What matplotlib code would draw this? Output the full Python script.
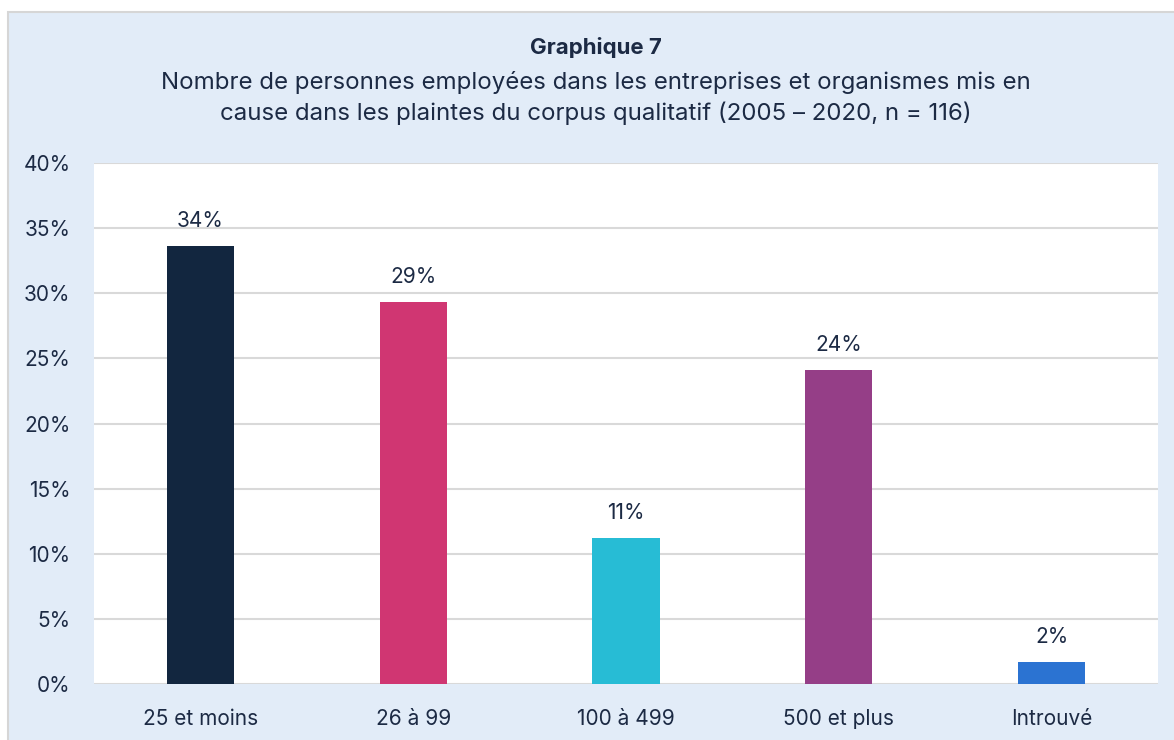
import matplotlib.pyplot as plt
from matplotlib.patches import Rectangle

plt.rcParams['font.family'] = ['Inter', 'DejaVu Sans']

categories = ['25 et moins', '26 à 99', '100 à 499', '500 et plus', 'Introuvé']
counts = [39, 34, 13, 28, 2]
n_total = 116
values = [c / n_total * 100 for c in counts]
colors = ['#12263f', '#d03672', '#27bcd5', '#953e87', '#2b73d2']
yticks = [0, 5, 10, 15, 20, 25, 30, 35, 40]

text_color = '#1c2a44'
bg_blue = '#e2ecf8'

fig = plt.figure(figsize=(11.74, 7.40), dpi=100)
fig.patch.set_facecolor('white')

# blue frame behind the chart
frame = Rectangle((8 / 1174, -0.01), 1.1, (740 - 12) / 740 + 0.01,
                  transform=fig.transFigure, facecolor=bg_blue,
                  edgecolor='#d6d6d6', linewidth=1.5, zorder=-1)
fig.patches.append(frame)

ax = fig.add_axes([94 / 1174, 56 / 740, 1064 / 1174, 521 / 740])
ax.set_zorder(1)
ax.set_facecolor('white')

x = range(len(categories))
bars = ax.bar(x, values, width=0.315, color=colors, zorder=3)

for b, v in zip(bars, values):
    ax.text(b.get_x() + b.get_width() / 2, v + 1.15, f'{round(v)}%',
            ha='center', va='bottom', fontsize=15, color=text_color)

ax.set_xlim(-0.5, len(categories) - 0.5)
ax.set_ylim(0, 40)
ax.set_yticks(yticks)
ax.set_yticklabels([f'{t}%' for t in yticks])
ax.set_xticks(list(x))
ax.set_xticklabels(categories)
ax.grid(axis='y', color='#d9d9d9', linewidth=1.5, zorder=0)
ax.tick_params(axis='y', length=0, pad=17, labelsize=15, labelcolor=text_color)
ax.tick_params(axis='x', length=0, pad=18, labelsize=15, labelcolor=text_color)
for s in ax.spines.values():
    s.set_visible(False)

fig.text(596 / 1174, 1 - 47 / 740, 'Graphique 7', ha='center', va='center',
         fontsize=16, fontweight='bold', color=text_color)
fig.text(596 / 1174, 1 - 82 / 740,
         'Nombre de personnes employées dans les entreprises et organismes mis en',
         ha='center', va='center', fontsize=17.3, color=text_color)
fig.text(596 / 1174, 1 - 113 / 740,
         'cause dans les plaintes du corpus qualitatif (2005 – 2020, n = 116)',
         ha='center', va='center', fontsize=17.3, color=text_color)

fig.savefig('out.png', dpi=100)
